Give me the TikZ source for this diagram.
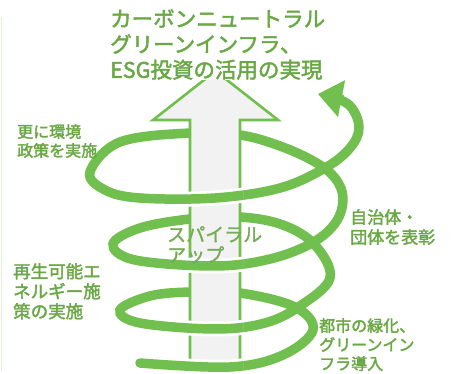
\documentclass[tikz,border=0pt]{standalone}
\usepackage{fontspec}
\usetikzlibrary{arrows.meta}
\newfontfamily\cjk[FakeBold=1.4]{Noto Sans CJK JP}
\newfontfamily\cjkb[FakeBold=2.2]{Noto Sans CJK JP}
\definecolor{spg}{RGB}{113,191,78}
\definecolor{txg}{RGB}{106,168,70}
\definecolor{ctg}{RGB}{118,172,86}
\definecolor{edgeg}{RGB}{226,240,217}
\definecolor{shaftg}{RGB}{242,242,242}
\newcommand\spiralline[1]{\draw[#1] plot[smooth,tension=0.6] coordinates {
(140,363) (230,367) (283,355) (313,330) (295,307) (240,293) (190,292) (150,296) (120,310) (140,323) (215,329) (265,323) (300,306) (330,278) (315,245) (283,225) (240,217) (190,219) (140,228) (113,244) (135,260) (215,266) (270,259) (312,243) (336,222) (343,198) (335,178) (315,162) (280,146) (240,135) (190,133) (120,142) (90,172) (105,190) (140,198) (215,198) (280,188) (325,168) (350,148) (359,127) (348,104) (318,94)};}
\tikzset{lbl/.style={text=txg, align=left, inner sep=0pt, anchor=north west}}
\begin{document}
\begin{tikzpicture}[x=1pt,y=-1pt]
\useasboundingbox (0,0) rectangle (451,374);
\fill[white] (0,0) rectangle (451,374);
\draw[edgeg, line width=1.5pt] (1.5,17) -- (1.5,371);
% spiral (full)
\spiralline{spg, line width=9.5pt, line cap=round, -{Triangle[width=36pt,length=24pt]}}
% big arrow
\draw[spg, fill=shaftg, line width=2.6pt, line join=miter] (190,368) -- (190,120) -- (153,120) -- (215.5,71) -- (278,120) -- (240,120) -- (240,368) -- cycle;
% front strokes over the arrow
\begin{scope}
\clip (187,184) rectangle (243,209) (187,252) rectangle (243,281) (187,316) rectangle (243,346) (187,354) rectangle (243,374);
\spiralline{white, line width=15pt}
\spiralline{spg, line width=9.5pt}
\end{scope}
% texts
\node[lbl, font=\cjkb\fontsize{21.5pt}{25.5pt}\selectfont, fill=white] (title) at (110,9) {カーボンニュートラル\\グリーンインフラ、\\ESG投資の活用の実現};
\node[lbl, font=\cjkb\fontsize{16pt}{19pt}\selectfont] (l1) at (17,124) {更に環境\\政策を実施};
\node[lbl, font=\cjkb\fontsize{17.5pt}{20pt}\selectfont] (l2) at (13,263) {再生可能エ\\ネルギー施\\策の実施};
\node[lbl, font=\cjkb\fontsize{17pt}{20pt}\selectfont] (l3) at (350,209) {自治体・\\団体を表彰};
\node[lbl, font=\cjkb\fontsize{16pt}{19pt}\selectfont] (l4) at (319,318) {都市の緑化、\\グリーンイン\\フラ導入};
\node[lbl, text=ctg, font=\cjk\fontsize{19pt}{20.5pt}\selectfont] (ctr) at (167,226) {スパイラル\\アップ};
\end{tikzpicture}
\end{document}
